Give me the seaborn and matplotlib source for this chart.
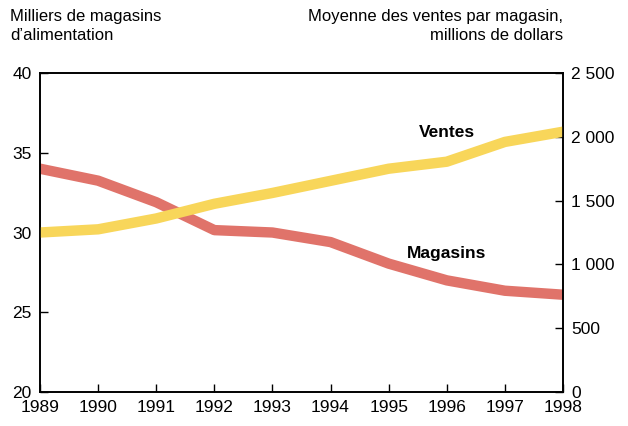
import matplotlib
matplotlib.use("Agg")
import matplotlib.pyplot as plt
import seaborn as sns
import pandas as pd

# data
years = [1989, 1990, 1991, 1992, 1993, 1994, 1995, 1996, 1997, 1998]
magasins = [34.0, 33.25, 31.9, 30.15, 30.0, 29.4, 28.05, 27.0, 26.35, 26.1]
ventes = [1250, 1275, 1360, 1475, 1560, 1655, 1750, 1805, 1960, 2040]
left_ticks = [20, 25, 30, 35, 40]
right_ticks = [0, 500, 1000, 1500, 2000, 2500]
right_labels = ["0", "500", "1 000", "1 500", "2 000", "2 500"]

sns.set_style("ticks")
plt.rcParams['font.family'] = ['Liberation Sans Narrow', 'Liberation Sans', 'DejaVu Sans']
plt.rcParams['text.color'] = 'black'
plt.rcParams['xtick.color'] = 'black'
plt.rcParams['ytick.color'] = 'black'

df = pd.DataFrame({"annee": years, "magasins": magasins, "ventes": ventes})

red = "#E0736A"
yellow = "#F8D65A"

fig = plt.figure(figsize=(6.28, 4.26), dpi=100)
ax = fig.add_axes([0.0637, 0.0798, 0.8328, 0.7488])
ax2 = ax.twinx()

sns.lineplot(data=df, x="annee", y="magasins", ax=ax, color=red, linewidth=7.5)
sns.lineplot(data=df, x="annee", y="ventes", ax=ax2, color=yellow, linewidth=7.5)

ax.set_xlim(1989, 1998)
ax.set_ylim(20, 40)
ax2.set_ylim(0, 2500)
ax.set_xticks(years)
ax.set_yticks(left_ticks)
ax2.set_yticks(right_ticks)
ax2.set_yticklabels(right_labels)
ax.set_xlabel("")
ax.set_ylabel("")
ax2.set_ylabel("")

for a in (ax, ax2):
    for s in a.spines.values():
        s.set_linewidth(1.2)
        s.set_color("black")
ax.tick_params(axis="both", direction="in", length=6, width=1, labelsize=12.5, pad=6, colors="black")
ax2.tick_params(axis="y", direction="in", length=6, width=1, labelsize=12.5, pad=6, colors="black")

ax2.text(1996.0, 2030, "Ventes", ha="center", va="center", fontsize=12.5, fontweight="bold")
ax2.text(1996.0, 1082, "Magasins", ha="center", va="center", fontsize=12.5, fontweight="bold")

fig.text(10 / 628, 1 - 9 / 426, "Milliers de magasins\nd\u2019alimentation", ha="left", va="top",
         fontsize=12, linespacing=1.35)
fig.text(563 / 628, 1 - 9 / 426, "Moyenne des ventes par magasin,\nmillions de dollars", ha="right", va="top",
         fontsize=12, linespacing=1.35, multialignment="right")

fig.savefig("out.png", dpi=100)
